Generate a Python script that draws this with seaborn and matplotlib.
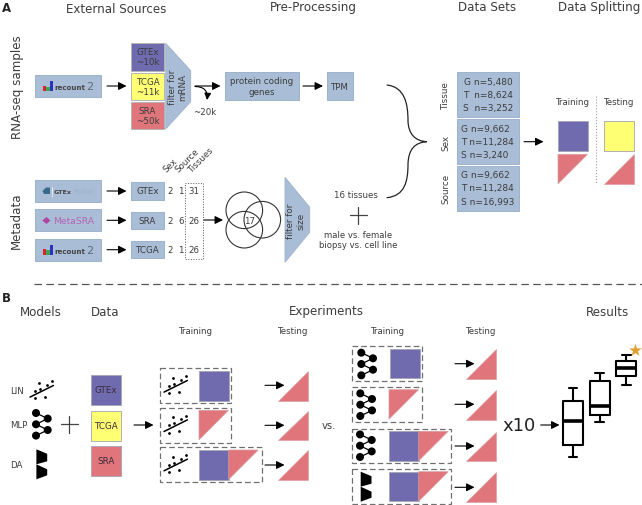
import pandas as pd
import seaborn as sns
from matplotlib import pyplot as plt
from matplotlib.patches import Polygon, Rectangle, Circle, PathPatch
from matplotlib.path import Path

sns.set_theme(style="white")
plt.rcParams['font.family'] = ['DejaVu Sans']

# Colours
BLUE = "#a9bdd7"
EDGE = "#9db2cc"
PURPLE = "#6f6bae"
YELLOW = "#ffff73"
RED = "#e0767b"
TXT = "#3c3c3c"

# Texts and values
big_titles = ["External Sources", "Pre-Processing", "Data Sets", "Data Splitting",
              "Models", "Data", "Experiments", "Results"]
sources = ["GTEx\n~10k", "TCGA\n~11k", "SRA\n~50k"]
meta_names = ["GTEx", "SRA", "TCGA"]
meta_sex = [2, 2, 2]
meta_source = [1, 6, 1]
meta_tissues = [31, 26, 26]
meta_headers = ["Sex", "Source", "Tissues"]
set_names = ["Tissue", "Sex", "Source"]
set_g = ["G n=5,480", "G n=9,662", "G n=9,662"]
set_t = ["T  n=8,624", "T n=11,284", "T n=11,284"]
set_s = ["S  n=3,252", "S n=3,240", "S n=16,993"]
model_names = ["LIN", "MLP", "DA"]
data_names = ["GTEx", "TCGA", "SRA"]
model_labels = ["A", "B", "C"]
box_min = [0.061, 0.368, 0.687]
box_q1 = [0.168, 0.426, 0.763]
box_med = [0.374, 0.507, 0.835]
box_q3 = [0.550, 0.722, 0.896]
box_max = [0.663, 0.791, 0.945]

fig = plt.figure(figsize=(6.42, 5.06), dpi=100)
ax = fig.add_axes([0, 0, 1, 1])
ax.set_xlim(0, 642)
ax.set_ylim(506, 0)
ax.axis("off")


def txt(x, y, s, size=6.2, **kw):
    kw.setdefault("ha", "center")
    kw.setdefault("va", "center")
    kw.setdefault("color", TXT)
    ax.text(x, y, s, fontsize=size, **kw)


def box(x0, y0, x1, y1, color=BLUE, edge=EDGE):
    ax.add_patch(Rectangle((x0, y0), x1 - x0, y1 - y0, fc=color, ec=edge, lw=0.7))


def arrow(x0, x1, y):
    ax.annotate("", xy=(x1, y), xytext=(x0, y),
                arrowprops=dict(arrowstyle="-|>", color="black", lw=0.8,
                                mutation_scale=12, shrinkA=0, shrinkB=0))


def tri_down(x0, y0, s=29.5):
    # training triangle, corner at top left
    ax.add_patch(Polygon([(x0, y0), (x0 + s, y0), (x0, y0 + s)], fc=RED, ec="#d9a0a3", lw=0.5))


def tri_up(x0, y0, s=29.5):
    # testing triangle, corner at bottom right
    ax.add_patch(Polygon([(x0, y0 + s), (x0 + s, y0 + s), (x0 + s, y0)], fc=RED, ec="#d9a0a3", lw=0.5))


def square(x0, y0, color=PURPLE, s=29.5, edge="#a5a5b5"):
    ax.add_patch(Rectangle((x0, y0), s, s, fc=color, ec=edge, lw=0.6))


def dash_box(x0, y0, x1, y1):
    ax.add_patch(Rectangle((x0, y0), x1 - x0, y1 - y0, fc="none", ec="#707070", lw=0.9, ls=(0, (4.5, 2.5))))


def lin_icon(x, y):
    ax.plot([x - 11.7, x + 11.7], [y + 5.8, y - 5.8], color="black", lw=1.1)
    px = [-3, 10, 5.7, -1.7, -7, 3.7, -7]
    py = [-8.3, -10, -6.3, -2.3, -0.3, 5.3, 7]
    ax.scatter([x + a for a in px], [y + b for b in py], s=4, color="black", lw=0)


def mlp_icon(x, y):
    left = [(-5.7, -11.3), (-5.7, 0), (-5.7, 11.3)]
    right = [(6, -5.7), (6, 5.7)]
    for a, b in [(0, 0), (1, 0), (1, 1), (2, 1)]:
        ax.plot([x + left[a][0], x + right[b][0]], [y + left[a][1], y + right[b][1]], color="black", lw=0.9)
    for a, b in left + right:
        ax.add_patch(Circle((x + a, y + b), 4, fc="black", ec="none", zorder=3))


def da_icon(x, y):
    ax.add_patch(Polygon([(x - 5.3, y - 15), (x + 5.5, y - 10.5), (x + 5.5, y - 3), (x - 5.3, y)], fc="black", ec="none"))
    ax.add_patch(Polygon([(x - 5.3, y), (x + 5.5, y + 5), (x + 5.5, y + 11), (x - 5.3, y + 15)], fc="black", ec="none"))


def recount_logo(y):
    for x0, h, c in [(42.5, 5.5, "#d8262c"), (46, 4.5, "#3aa655"), (49.5, 10, "#2f2fc0")]:
        ax.add_patch(Rectangle((x0, y + 5 - h), 3.8, h, fc=c, ec="none"))
    txt(54, y + 1, "recount", size=5.1, ha="left", fontweight="bold", color="#444444")
    txt(86, y, "2", size=8, ha="left", color="#5a6a7a")


def plus(x, y, h=8.5):
    ax.plot([x - h, x + h], [y, y], color="#444444", lw=0.9)
    ax.plot([x, x], [y - h, y + h], color="#444444", lw=0.9)


# ---- panel A ----
txt(2, 8, "A", size=8.5, ha="left", fontweight="bold", color="#222222")
txt(116, 9.5, big_titles[0], size=8.6)
txt(313, 7.5, big_titles[1], size=8.6)
txt(487.3, 7.5, big_titles[2], size=8.6)
txt(599.3, 7.5, big_titles[3], size=8.6)
txt(18, 87, "RNA-seq samples", size=8.6, rotation=90)
txt(16, 221, "Metadata", size=8.6, rotation=90)

box(35, 76, 101, 98)
recount_logo(87)
arrow(107, 126.5, 87)

for name, y0, y1, c in zip(sources, [44, 73.5, 102.5], [71.5, 101, 130], [PURPLE, YELLOW, RED]):
    box(131, y0, 164, y1, color=c, edge="#b5b5b5")
    txt(147.5, (y0 + y1) / 2, name, size=6.3, linespacing=1.1)
ax.add_patch(Polygon([(165.7, 44.3), (190.7, 71.7), (190.7, 102.7), (165.7, 130)], fc=BLUE, ec=EDGE, lw=0.6))
txt(178, 87, "filter for\nmRNA", size=6.3, rotation=90, linespacing=1.15)

arrow(195, 220.5, 87)
ax.annotate("", xy=(207, 101), xytext=(195, 87.5),
            arrowprops=dict(arrowstyle="-|>", color="black", lw=0.8, mutation_scale=10, shrinkA=0, shrinkB=0,
                            connectionstyle="arc3,rad=-0.55"))
txt(205, 112, "~20k", size=6.2)

box(225, 73.3, 298.7, 100.7)
txt(261.7, 87, "protein coding\ngenes", size=6.3, linespacing=1.25)
arrow(303, 323, 87)
box(327.3, 73.3, 353.3, 100.7)
txt(340.3, 87, "TPM", size=6.2)

# brace
verts = [(386.7, 86), (405, 88), (408, 105), (408, 122), (408.5, 135), (415, 142), (426.7, 142.7),
         (415, 143.5), (408.5, 150), (408, 165), (408, 182), (405, 197), (386.7, 198.7)]
codes = [Path.MOVETO] + [Path.CURVE4] * 12
ax.add_patch(PathPatch(Path(verts, codes), fc="none", ec="#222222", lw=0.9))

txt(356, 195, "16 tissues", size=6.2)
plus(358.3, 216)
txt(358, 235, "male vs. female", size=6.1)
txt(358, 246, "biopsy vs. cell line", size=6.1)

# data sets
y_tops = [73.3, 120.3, 167]
y_bots = [118, 164.7, 211.7]
line_ys = [(82.3, 95.7, 108.7), (129, 142.3, 155.3), (175.7, 188.7, 202)]
label_ys = [95.7, 143, 189]
for i in range(3):
    box(456.7, y_tops[i], 518.7, y_bots[i])
    txt(445.7, label_ys[i], set_names[i], size=6.3, rotation=90)
    if i == 0:
        for y, s in zip(line_ys[i], [set_g[i], set_t[i], set_s[i]]):
            txt(488, y, s, size=6.5)
    else:
        for y, s in zip(line_ys[i], [set_g[i], set_t[i], set_s[i]]):
            txt(460.7, y, s, size=6.5, ha="left")
arrow(524, 543.5, 142.7)

# data splitting
txt(573, 102, "Training", size=6.2)
txt(619.3, 102, "Testing", size=6.2)
ax.plot([596, 596], [97, 185], color="#999999", lw=0.8, ls=":")
square(558, 122.3)
square(604.3, 122.3, color=YELLOW)
tri_down(558, 155.3)
tri_up(604.3, 155.3)

# metadata rows
logo_y = [192, 221.3, 250.7]
small_top = [183.3, 213, 242.3]
small_bot = [200.7, 230, 259.3]
for i, name in enumerate(meta_names):
    box(35, logo_y[i] - 11, 101, logo_y[i] + 11)
    arrow(107, 126.5, logo_y[i])
    box(131, small_top[i], 163.7, small_bot[i])
    txt(147.3, logo_y[i], name, size=6.3)
    txt(170, logo_y[i], str(meta_sex[i]), size=6.2)
    txt(181, logo_y[i], str(meta_source[i]), size=6.2)
    txt(193.5, logo_y[i], str(meta_tissues[i]), size=6.2)
ax.add_patch(Polygon([(42.5, 192), (46, 188.5), (50, 188.5), (50, 195), (44, 195)], fc="#3a6a8a", ec="none"))
ax.plot([52, 52], [187.5, 196.5], color="#f0f3f7", lw=0.6)
txt(53.3, 192, "GTEx", size=4.6, ha="left", fontweight="bold", color="#444444")
txt(73, 192, "Portal", size=5.1, ha="left", color="#9fb0c6")
ax.add_patch(Polygon([(42.3, 221.5), (46.5, 218), (50.5, 221.5), (46.5, 225)], fc="#b0479f", ec="none"))
txt(53.3, 221.5, "MetaSRA", size=6.7, ha="left", color="#b565b5")
recount_logo(250.7)
for x, y, s in zip([170, 186.7, 201], [166, 161, 160], meta_headers):
    txt(x, y, s, size=6.2, rotation=45)
ax.add_patch(Rectangle((184.7, 184.3), 18, 75.4, fc="none", ec="#555555", lw=0.7, ls=":"))
arrow(204, 223, 221)

for cx, cy in [(244.3, 211.3), (262.3, 220.7), (244.3, 230.7)]:
    ax.add_patch(Circle((cx, cy), 18.3, fc="none", ec="#333333", lw=0.8))
txt(250, 221, "17", size=6.2)

ax.add_patch(Polygon([(285, 178.3), (309.7, 208.3), (309.7, 233.3), (285, 263.3)], fc=BLUE, ec=EDGE, lw=0.6))
txt(296, 221, "filter for\nsize", size=6.3, rotation=90, linespacing=1.15)

# separator
ax.plot([34, 642], [284.7, 284.7], color="#555555", lw=0.9, ls=(0, (6, 3.5)))

# ---- panel B ----
txt(2, 299, "B", size=8.5, ha="left", fontweight="bold", color="#222222")
txt(41.3, 312.3, big_titles[4], size=8.6)
txt(105.3, 312.3, big_titles[5], size=8.6)
txt(326.5, 311.5, big_titles[6], size=8.6)
txt(607.3, 312.3, big_titles[7], size=8.6)
for x in [196, 387.7]:
    txt(x, 331.7, "Training", size=6.2)
for x in [292.7, 480.7]:
    txt(x, 331.7, "Testing", size=6.2)

for x, y, s in zip([17.3, 19.3, 16.7], [391.3, 425.3, 465.3], model_names):
    txt(x, y, s, size=6.2)
lin_icon(41.7, 392.3)
mlp_icon(41.7, 425.3)
da_icon(41.7, 465.3)
plus(69, 425.3)

for y0, c, name in zip([376, 412, 447], [PURPLE, YELLOW, RED], data_names):
    square(91, y0, color=c)
    txt(105.8, y0 + 15, name, size=6.3, color="#3a2a3a")
arrow(134, 153.5, 426)

# first experiment
dash_box(160.3, 369.3, 231.3, 404)
dash_box(160.3, 409, 231.3, 443.7)
dash_box(160.3, 448.3, 261.7, 482.7)
for y in [387.3, 426.7, 466]:
    lin_icon(175.7, y)
square(199, 372)
tri_down(199, 411.3)
square(199, 451)
tri_down(228.7, 451)
for y in [386.3, 426.3, 466]:
    arrow(265, 284.5, y)
for y in [372.3, 411.7, 451.3]:
    tri_up(278, y)

txt(329.3, 426, "vs.", size=7.2)

# second experiment
dash_box(352.3, 347.3, 422.3, 382)
dash_box(352.3, 388.3, 422.3, 422.7)
dash_box(352.3, 430, 451, 464.3)
dash_box(352.3, 470.3, 451, 504.7)
mlp_icon(367, 365)
mlp_icon(366, 405.7)
mlp_icon(365.7, 446.7)
da_icon(366, 487.7)
square(390.3, 349.7)
tri_down(389, 390.7)
square(389, 432.3)
tri_down(418.7, 432.3)
square(389, 472.7)
tri_down(418.7, 472.7)
for y in [364.7, 405.3, 447, 488.3]:
    arrow(455, 474.5, y)
for y in [350.3, 391, 432.7, 473.3]:
    tri_up(466, y)

txt(518.7, 426.5, "x10", size=13, color="#222222")
arrow(540.7, 559.5, 426)

# results, drawn from the five number summaries
rows = []
for i in range(3):
    for v in [box_min[i], box_q1[i], box_med[i], box_q3[i], box_max[i]]:
        rows.append({"Model": model_labels[i], "Score": v})
df = pd.DataFrame(rows)

ax2 = fig.add_axes([559.7 / 642, 1 - 465 / 506, 80 / 642, 115 / 506])
ax2.patch.set_alpha(0)
sns.boxplot(x="Model", y="Score", data=df, ax=ax2, width=0.75, whis=(0, 100), fill=False,
            color="black", linewidth=1.5, capwidths=0.32,
            medianprops=dict(linewidth=2.6, color="black"))
ax2.set_xlim(-0.5, 2.5)
ax2.set_ylim(0, 1)
ax2.axis("off")

ax.scatter([634.7], [350.7], marker="*", s=95, color="#e0a030", lw=0, zorder=5)

plt.savefig("out.png", dpi=100)
